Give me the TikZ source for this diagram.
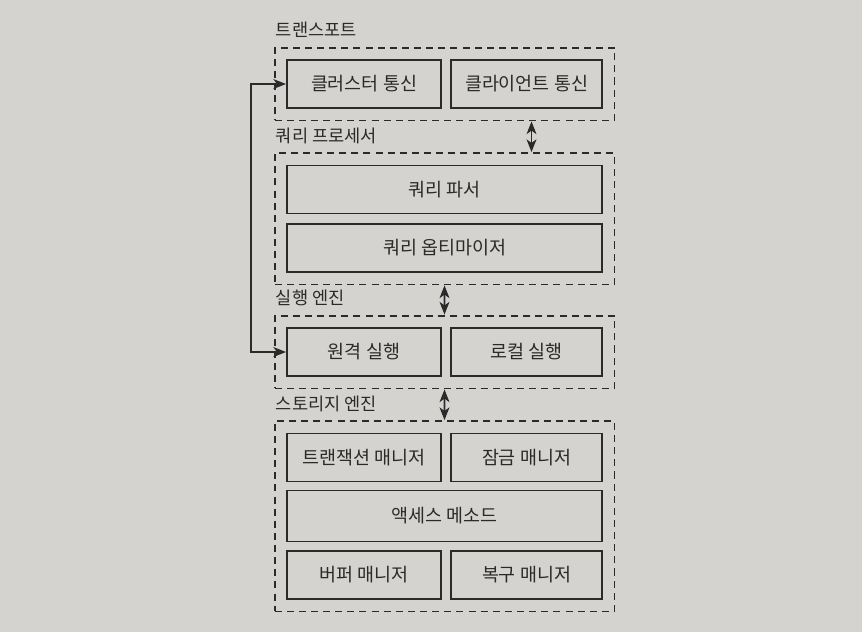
\documentclass[tikz,border=0pt]{standalone}
\usepackage{fontspec}
\setmainfont{Noto Sans CJK KR}
\usetikzlibrary{positioning,fit,arrows.meta}
\tikzset{>={Stealth[length=7.2pt,width=5.6pt,inset=2pt]}}
\definecolor{paper}{RGB}{212,211,208}
\definecolor{ink}{RGB}{42,42,42}
\tikzset{
  unit/.style={draw=ink, line width=1.1pt, minimum height=0.96cm, text=ink,
    font=\fontsize{10.5}{12}\selectfont},
  layer/.style={draw=ink, line width=1.1pt, dash pattern=on 4pt off 2.9pt, inner sep=0.23cm},
  layername/.style={anchor=base west, inner sep=0pt, text=ink, font=\fontsize{10}{12}\selectfont},
  link/.style={<->, draw=ink, line width=0.95pt}
}

\begin{document}
\begin{tikzpicture}
    \fill[paper] (0,0) rectangle (17.24,-12.64);

    \node[unit, minimum width=3.08cm] (clu) at (7.28,-1.68) {클러스터 통신};
    \node[unit, minimum width=3.02cm] (cli) at (10.53,-1.68) {클라이언트 통신};
    \node[layer, fit=(clu)(cli)] (trans) {};
    \node[layername] (translbl) at ([xshift=0.04cm,yshift=0.2cm]trans.north west) {트랜스포트};

    \node[unit, minimum width=6.3cm] (parser) at (8.89,-3.79) {쿼리 파서};
    \node[unit, minimum width=6.3cm] (optim) at (8.89,-4.96) {쿼리 옵티마이저};
    \node[layer, fit=(parser)(optim)] (query) {};
    \node[layername] (querylbl) at ([xshift=0.04cm,yshift=0.2cm]query.north west) {쿼리 프로세서};

    \node[unit, minimum width=3.08cm] (rem) at (7.28,-7.04) {원격 실행};
    \node[unit, minimum width=3.02cm] (loc) at (10.53,-7.04) {로컬 실행};
    \node[layer, fit=(rem)(loc)] (exec) {};
    \node[layername] (execlbl) at ([xshift=0.04cm,yshift=0.2cm]exec.north west) {실행 엔진};

    \node[unit, minimum width=3.08cm] (txn) at (7.28,-9.15) {트랜잭션 매니저};
    \node[unit, minimum width=3.02cm] (lock) at (10.53,-9.15) {잠금 매니저};
    \node[unit, minimum width=6.3cm, minimum height=1.02cm] (access) at (8.89,-10.32) {액세스 메소드};
    \node[unit, minimum width=3.08cm] (buf) at (7.28,-11.5) {버퍼 매니저};
    \node[unit, minimum width=3.02cm] (rec) at (10.53,-11.5) {복구 매니저};
    \node[layer, fit=(txn)(lock)(access)(buf)(rec)] (store) {};
    \node[layername] (storelbl) at ([xshift=0.04cm,yshift=0.2cm]store.north west) {스토리지 엔진};

    \draw[link] ([xshift=0.1cm]cli.south |- trans.south) -- ([xshift=0.1cm]cli.south |- query.north);
    \draw[link] (query.south) -- (exec.north);
    \draw[link] (exec.south) -- (store.north);
    \draw[link] (clu.west) -- ++(-0.7,0) |- (rem.west);
\end{tikzpicture}
\end{document}
